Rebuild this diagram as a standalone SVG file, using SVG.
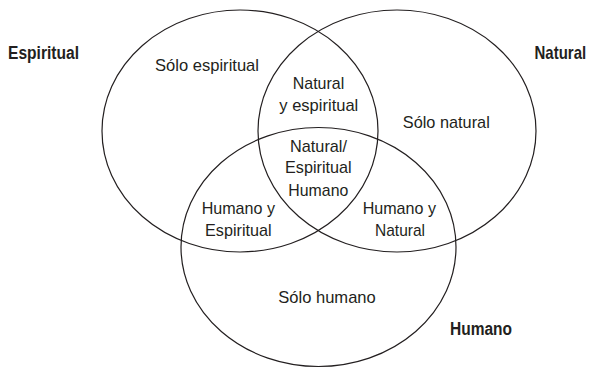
<svg xmlns="http://www.w3.org/2000/svg" width="591" height="368" viewBox="0 0 591 368">
<style>
.c{fill:none;stroke:#231f20;stroke-width:1.2}
.t{font-family:"Liberation Sans",Arial,sans-serif;font-size:17px;fill:#231f20;text-anchor:middle}
.b{font-family:"Liberation Sans",Arial,sans-serif;font-size:18px;font-weight:bold;fill:#231f20}
</style>
<rect width="591" height="368" fill="#fff"/>
<g id="connectors"></g>
<g id="espiritual">
<ellipse class="c" cx="240" cy="131" rx="138" ry="121"/>
<text class="b" x="8" y="59" textLength="71" lengthAdjust="spacingAndGlyphs">Espiritual</text>
</g>
<g id="natural">
<ellipse class="c" cx="397" cy="131" rx="139" ry="121"/>
<text class="b" transform="translate(534.5,59) scale(1,1.18)" style="font-size:15px">Natural</text>
</g>
<g id="humano">
<ellipse class="c" cx="318.5" cy="247" rx="137.5" ry="119.5"/>
<text class="b" x="450" y="335" textLength="62" lengthAdjust="spacingAndGlyphs">Humano</text>
</g>
<g id="solo-espiritual"><text class="t" x="207" y="71" textLength="104" lengthAdjust="spacingAndGlyphs">Sólo espiritual</text></g>
<g id="solo-natural"><text class="t" x="446.3" y="128.3" textLength="87" lengthAdjust="spacingAndGlyphs">Sólo natural</text></g>
<g id="solo-humano"><text class="t" x="327" y="303.3" textLength="97.5" lengthAdjust="spacingAndGlyphs">Sólo humano</text></g>
<g id="natural-espiritual">
<text class="t" x="318.5" y="89.3" textLength="51.5" lengthAdjust="spacingAndGlyphs">Natural</text>
<text class="t" x="318.8" y="110.7" textLength="79" lengthAdjust="spacingAndGlyphs">y espiritual</text>
</g>
<g id="centro">
<text class="t" x="318.5" y="151.7" textLength="57" lengthAdjust="spacingAndGlyphs">Natural/</text>
<text class="t" x="318.3" y="173.3" textLength="66.5" lengthAdjust="spacingAndGlyphs">Espiritual</text>
<text class="t" x="318.3" y="195.5" textLength="60" lengthAdjust="spacingAndGlyphs">Humano</text>
</g>
<g id="humano-espiritual">
<text class="t" x="238.3" y="214.3" textLength="73.3" lengthAdjust="spacingAndGlyphs">Humano y</text>
<text class="t" x="238.3" y="236.3" textLength="66.5" lengthAdjust="spacingAndGlyphs">Espiritual</text>
</g>
<g id="humano-natural">
<text class="t" x="399.3" y="214.3" textLength="73.3" lengthAdjust="spacingAndGlyphs">Humano y</text>
<text class="t" x="400" y="236.3" textLength="50" lengthAdjust="spacingAndGlyphs">Natural</text>
</g>
</svg>
